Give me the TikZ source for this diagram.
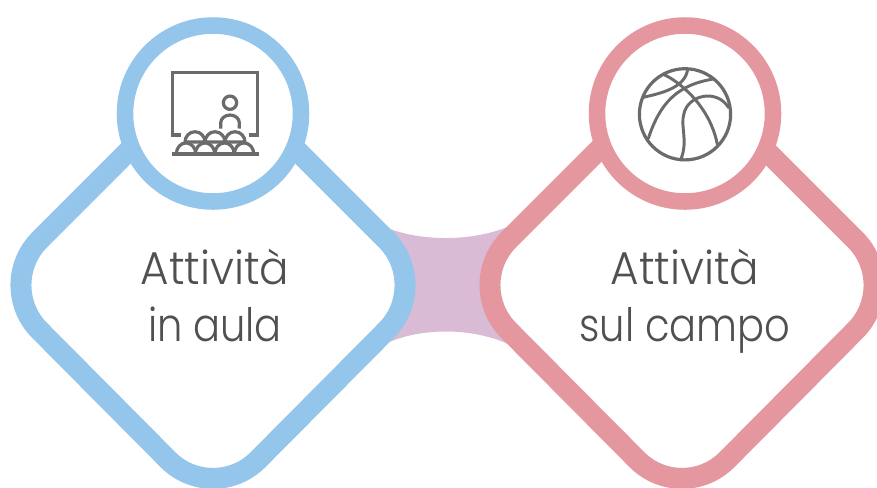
\documentclass[tikz,border=0pt]{standalone}
\usepackage{fontspec}
\setmainfont[FakeStretch=0.87]{Poppins Light}
\newfontfamily\widefont[FakeStretch=0.95]{Poppins Light}
\definecolor{bluering}{HTML}{94C6EC}
\definecolor{pinkring}{HTML}{E4979F}
\definecolor{midfill}{HTML}{D9BBD6}
\definecolor{icongray}{HTML}{6B6B6B}
\definecolor{textgray}{HTML}{505050}
\tikzset{
  ringdiamond/.style={line width=15.75pt, rounded corners=48pt, fill=white, line join=round},
  ringcircle/.style={line width=12.4pt, fill=white},
  iconline/.style={draw=icongray, line width=2.4pt},
  ballline/.style={draw=icongray, line width=2.2pt, line cap=round},
  label/.style={text=textgray, align=center, font=\fontsize{34.5}{42.75}\selectfont, inner sep=0pt}
}
\begin{document}
\begin{tikzpicture}[x=0.75pt,y=-0.75pt]
\useasboundingbox[clip] (0,0) rectangle (877,487);
\fill[white] (0,0) rectangle (877,487);
% middle band
\fill[midfill] (385,227) .. controls (420,242) and (475,242) .. (512,225)
  -- (512,346) .. controls (475,327) and (420,327) .. (385,344) -- cycle;
% diamonds
\draw[ringdiamond, draw=bluering] (213,66.5) -- (431.5,285) -- (213,505) -- (-5.5,285) -- cycle;
\draw[ringdiamond, draw=pinkring] (682,66.5) -- (900.5,285) -- (682,505) -- (463.5,285) -- cycle;
% circles
\node[circle, draw=bluering, ringcircle, minimum size=132pt, inner sep=0pt] (cl) at (213,113.5) {};
\node[circle, draw=pinkring, ringcircle, minimum size=132pt, inner sep=0pt] (cr) at (685,113.5) {};
% labels
\node[label] (tl) at (215,301) {{\widefont Attività}\\in aula\vphantom{p}};
\node[label] (tr) at (685,301) {{\widefont Attività}\\sul campo};
% classroom icon
\draw[iconline] (180.7,135) -- (172.3,135) -- (172.3,72.3) -- (257.7,72.3) -- (257.7,135) -- (249,135);
\draw[iconline] (230,102.7) circle (5pt);
\draw[iconline] (220.7,128.5) -- (220.7,123) arc[start angle=180,end angle=0,x radius=7pt,y radius=6pt] -- (239.3,128.5);
\foreach \cx in {195,215,235}{
  \draw[iconline, fill=white] (\cx-10,142) arc[start angle=180,end angle=0,x radius=7.5pt,y radius=7.7pt] -- cycle;
}
\foreach \cx in {186,205,224.5,244}{
  \draw[iconline, fill=white] (\cx-9.7,154) arc[start angle=180,end angle=0,x radius=7.3pt,y radius=8.3pt] -- cycle;
}
\draw[iconline] (171.5,154) -- (258.5,154);
% basketball icon
\draw[iconline, line width=2.4pt] (685,114.3) circle (34.2pt);
\begin{scope}[shift={(580,10)},x=0.25pt,y=-0.25pt]
\draw[ballline] (190,262) .. controls (240,250) and (315,235) .. (323,178);
\draw[ballline] (250,193) .. controls (300,215) and (390,290) .. (412,403);
\draw[ballline] (205,385) .. controls (240,280) and (290,225) .. (400,207);
\draw[ballline] (303,447) .. controls (325,390) and (300,350) .. (312,310)
  .. controls (325,255) and (410,235) .. (446,293);
\end{scope}
\end{tikzpicture}
\end{document}
